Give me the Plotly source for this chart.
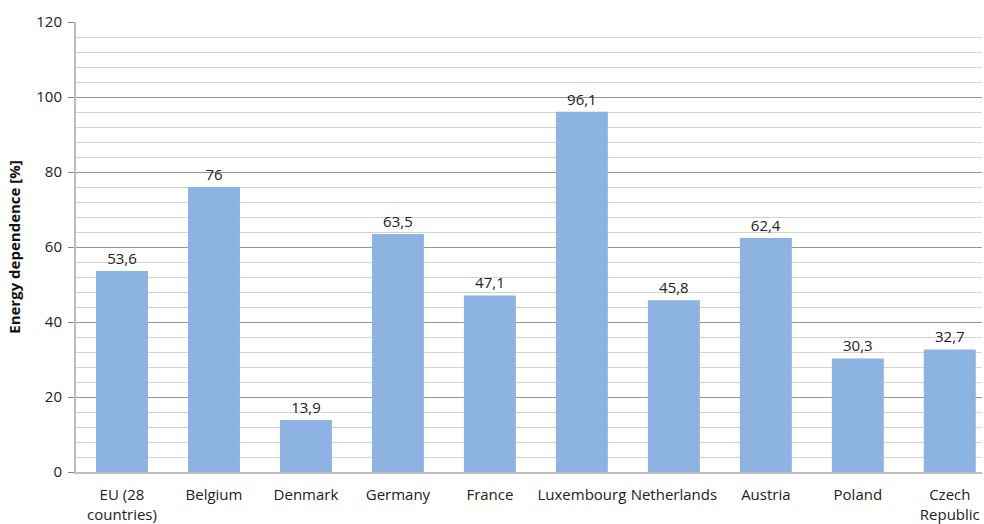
import plotly.graph_objects as go

categories = ["EU (28<br>countries)", "Belgium", "Denmark", "Germany", "France",
              "Luxembourg", "Netherlands", "Austria", "Poland", "Czech<br>Republic"]
values = [53.6, 76, 13.9, 63.5, 47.1, 96.1, 45.8, 62.4, 30.3, 32.7]
labels = [(f"{v:g}").replace(".", ",") for v in values]

FONT = "Open Sans, Noto Sans, sans-serif"

fig = go.Figure(go.Bar(
    x=categories, y=values, text=labels, textposition="outside",
    textfont=dict(size=15, color="#222222", family=FONT),
    marker=dict(color="#8db3e2", line=dict(width=0)),
    cliponaxis=False,
))

fig.update_layout(
    width=984, height=524,
    margin=dict(l=76, r=2, t=22, b=52),
    paper_bgcolor="white", plot_bgcolor="white",
    bargap=0.435, showlegend=False,
    font=dict(family=FONT, size=15, color="#222222"),
)
fig.update_yaxes(
    range=[0, 120], dtick=20, tickmode="linear", automargin=False,
    showgrid=True, gridcolor="#959595", gridwidth=1,
    minor=dict(dtick=4, showgrid=True, gridcolor="#d4d4d4", gridwidth=1),
    showline=True, linecolor="#bdbdbd", linewidth=2,
    ticks="outside", ticklen=6, tickcolor="#888888",
    tickfont=dict(size=15, color="#222222"), ticklabelstandoff=3,
    zeroline=False,
    title=dict(text="<b>Energy dependence [%]</b>", font=dict(size=15, color="#111111"), standoff=12),
)
fig.update_xaxes(
    range=[-0.5, 9.35],
    showline=True, linecolor="#bdbdbd", linewidth=2, automargin=False,
    tickfont=dict(size=15, color="#222222"), ticklabelstandoff=8,
    ticks="", showgrid=False,
)

post = ("document.body.style.margin='0';document.body.style.overflow='hidden';"
        "Plotly.relayout('{plot_id}', {width: 984, height: 524});")
fig.write_html("out.html", post_script=post, config={"displayModeBar": False})
